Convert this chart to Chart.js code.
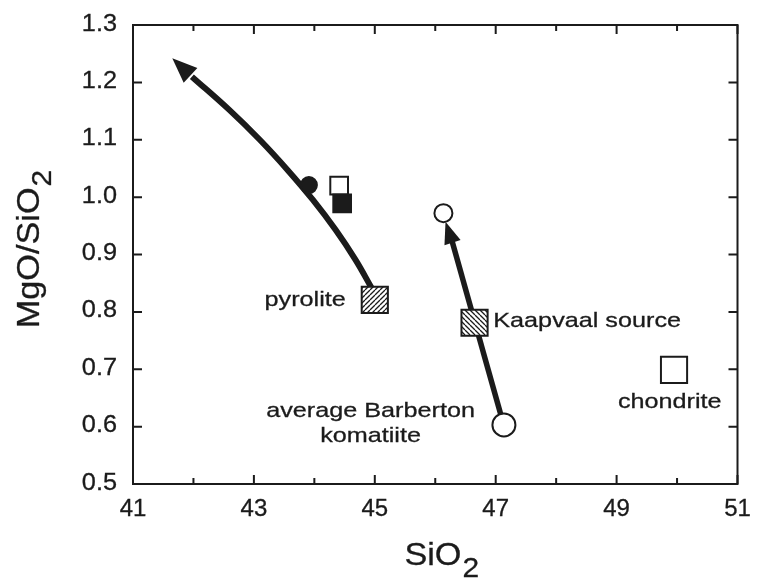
<!DOCTYPE html>
<html>
<head>
<meta charset="utf-8">
<title>MgO/SiO2 vs SiO2</title>
<script src="https://cdn.jsdelivr.net/npm/chart.js@4.4.1/dist/chart.umd.min.js"></script>
<style>
    html, body { margin: 0; padding: 0; background: #fff; }
    canvas { display: block; }
</style>
</head>
<body>
<canvas id="plot" width="758" height="579"></canvas>
<script>
// ============================================
// Data
// ============================================

const X_TICKS = [41, 42, 43, 44, 45, 46, 47, 48, 49, 50, 51];
const X_TICK_LABELS = ["41", "", "43", "", "45", "", "47", "", "49", "", "51"];
const Y_TICKS = [0.5, 0.6, 0.7, 0.8, 0.9, 1.0, 1.1, 1.2, 1.3];
const Y_TICK_LABELS = ["0.5", "0.6", "0.7", "0.8", "0.9", "1.0", "1.1", "1.2", "1.3"];

// curved trend leaving pyrolite (ends at the arrow base)
const pyroliteTrendX = [45.01, 44.945, 44.679, 44.351, 43.977, 43.560, 43.097, 42.593, 41.974];
const pyroliteTrendY = [0.830, 0.842, 0.891, 0.943, 0.995, 1.047, 1.100, 1.152, 1.210];
const pyroliteArrowTip = [41.65, 1.242];

// straight trend from the Barberton komatiite towards Kaapvaal
const kaapvaalTrendX = [47.10, 46.28];
const kaapvaalTrendY = [0.615, 0.9225];
const kaapvaalArrowTip = [46.17, 0.957];

const pyroliteX = [45.0];
const pyroliteY = [0.821];
const kaapvaalSourceX = [46.65];
const kaapvaalSourceY = [0.781];
const chondriteX = [49.95];
const chondriteY = [0.699];
const barbertonX = [47.136];
const barbertonY = [0.603];
const kaapvaalEndX = [46.135];
const kaapvaalEndY = [0.972];
const filledCircleX = [43.91];
const filledCircleY = [1.021];
const openSquareX = [44.41];
const openSquareY = [1.02];
const filledSquareX = [44.46];
const filledSquareY = [0.989];

const LABEL_TEXT = ["pyrolite", "Kaapvaal source", "chondrite", "average Barberton", "komatiite"];
const LABEL_X = [44.52, 46.96, 49.88, 44.93, 44.93];
const LABEL_Y = [0.8105, 0.774, 0.633, 0.617, 0.5735];

// ============================================
// Styling helpers
// ============================================

const INK = "#1b1b1b";
const FONT = '"Liberation Sans", Arial, Helvetica, sans-serif';
const LABEL_ALIGN = ["right", "left", "center", "center", "center"];

function toPoints(xs, ys) {
    return xs.map((x, i) => ({ x: x, y: ys[i] }));
}

function hatch(direction) {
    const size = 5;
    const c = document.createElement("canvas");
    c.width = size;
    c.height = size;
    const g = c.getContext("2d");
    g.fillStyle = "#fff";
    g.fillRect(0, 0, size, size);
    g.strokeStyle = INK;
    g.lineWidth = 1.3;
    g.beginPath();
    if (direction === "/") {
        for (let k = -1; k <= 1; k++) {
            g.moveTo(k * size, size);
            g.lineTo(k * size + size, 0);
        }
    } else {
        for (let k = -1; k <= 1; k++) {
            g.moveTo(k * size, 0);
            g.lineTo(k * size + size, size);
        }
    }
    g.stroke();
    return g.createPattern(c, "repeat");
}

function drawText(ctx, text, x, y, size, align, sx, rotate) {
    ctx.save();
    ctx.font = `${size}px ${FONT}`;
    ctx.fillStyle = INK;
    ctx.strokeStyle = INK;
    ctx.lineWidth = 0.3;
    ctx.textAlign = align;
    ctx.textBaseline = "alphabetic";
    ctx.translate(x, y);
    if (rotate) ctx.rotate(rotate);
    ctx.scale(sx, 1);
    ctx.fillText(text, 0, 0);
    ctx.strokeText(text, 0, 0);
    ctx.restore();
}

// title with a subscript, centred on (cx, baseline) along the text direction
function drawSubscriptTitle(ctx, main, sub, cx, cy, rotate) {
    const sx = 1.07;
    ctx.save();
    ctx.font = `32px ${FONT}`;
    const wMain = ctx.measureText(main).width * sx;
    ctx.font = `28px ${FONT}`;
    const wSub = ctx.measureText(sub).width * sx;
    ctx.translate(cx, cy);
    if (rotate) ctx.rotate(rotate);
    const start = -(wMain + wSub) / 2;
    drawText(ctx, main, start, 0, 32, "left", sx, 0);
    drawText(ctx, sub, start + wMain + 1, 12, 28, "left", sx, 0);
    ctx.restore();
}

// ============================================
// Plugins
// ============================================

const arrowHeads = {
    id: "arrowHeads",
    afterDatasetDraw(chart, args) {
        const ds = chart.data.datasets[args.index];
        if (!ds.arrowTip) return;
        const xs = chart.scales.x;
        const ys = chart.scales.y;
        const last = ds.data[ds.data.length - 1];
        const bx = xs.getPixelForValue(last.x);
        const by = ys.getPixelForValue(last.y);
        const tx = xs.getPixelForValue(ds.arrowTip[0]);
        const ty = ys.getPixelForValue(ds.arrowTip[1]);
        const ang = Math.atan2(ty - by, tx - bx);
        const len = ds.arrowLength;
        const half = ds.arrowHalfWidth;
        const hx = tx - len * Math.cos(ang);
        const hy = ty - len * Math.sin(ang);
        const ctx = chart.ctx;
        ctx.save();
        ctx.fillStyle = INK;
        ctx.beginPath();
        ctx.moveTo(tx, ty);
        ctx.lineTo(hx + half * Math.sin(ang), hy - half * Math.cos(ang));
        ctx.lineTo(hx - half * Math.sin(ang), hy + half * Math.cos(ang));
        ctx.closePath();
        ctx.fill();
        ctx.restore();
    },
};

const frameAndText = {
    id: "frameAndText",
    afterDraw(chart) {
        const ctx = chart.ctx;
        const { left, right, top, bottom } = chart.chartArea;
        const xs = chart.scales.x;
        const ys = chart.scales.y;

        ctx.save();
        ctx.strokeStyle = INK;
        ctx.lineWidth = 2;
        ctx.strokeRect(left, top, right - left, bottom - top);

        // inward ticks on all four sides
        ctx.beginPath();
        X_TICKS.forEach((v, i) => {
            const px = xs.getPixelForValue(v);
            const len = X_TICK_LABELS[i] ? 9 : 6;
            ctx.moveTo(px, bottom);
            ctx.lineTo(px, bottom - len);
            ctx.moveTo(px, top);
            ctx.lineTo(px, top + len);
        });
        Y_TICKS.forEach((v) => {
            const py = ys.getPixelForValue(v);
            ctx.moveTo(left, py);
            ctx.lineTo(left + 9, py);
            ctx.moveTo(right, py);
            ctx.lineTo(right - 9, py);
        });
        ctx.stroke();
        ctx.restore();

        X_TICKS.forEach((v, i) => {
            if (!X_TICK_LABELS[i]) return;
            drawText(ctx, X_TICK_LABELS[i], xs.getPixelForValue(v), bottom + 32, 24, "center", 1.0, 0);
        });
        Y_TICKS.forEach((v, i) => {
            drawText(ctx, Y_TICK_LABELS[i], left - 16, ys.getPixelForValue(v) + 5.5, 23, "right", 1.1, 0);
        });

        drawSubscriptTitle(ctx, "SiO", "2", (left + right) / 2 + 6, bottom + 81, 0);
        drawSubscriptTitle(ctx, "MgO/SiO", "2", left - 94, (top + bottom) / 2 - 5, -Math.PI / 2);

        LABEL_TEXT.forEach((t, i) => {
            drawText(ctx, t, xs.getPixelForValue(LABEL_X[i]), ys.getPixelForValue(LABEL_Y[i]), 21, LABEL_ALIGN[i], 1.2, 0);
        });
    },
};

// ============================================
// Chart
// ============================================

function markerSet(xs, ys, style, radius, fill, order) {
    return {
        data: toPoints(xs, ys),
        showLine: false,
        pointStyle: style,
        pointRadius: radius,
        pointBackgroundColor: fill,
        pointBorderColor: INK,
        pointBorderWidth: 2,
        order: order,
    };
}

function init() {
    const ctx = document.getElementById("plot").getContext("2d");

    const datasets = [
        {
            data: toPoints(pyroliteTrendX, pyroliteTrendY),
            showLine: true,
            borderColor: INK,
            borderWidth: 6,
            tension: 0.4,
            pointRadius: 0,
            arrowTip: pyroliteArrowTip,
            arrowLength: 25,
            arrowHalfWidth: 10,
            order: 5,
        },
        {
            data: toPoints(kaapvaalTrendX, kaapvaalTrendY),
            showLine: true,
            borderColor: INK,
            borderWidth: 5.5,
            pointRadius: 0,
            arrowTip: kaapvaalArrowTip,
            arrowLength: 22,
            arrowHalfWidth: 8.5,
            order: 5,
        },
        markerSet(pyroliteX, pyroliteY, "rect", 18.5, hatch("/"), 1),
        markerSet(kaapvaalSourceX, kaapvaalSourceY, "rect", 18.5, hatch("\\"), 1),
        markerSet(chondriteX, chondriteY, "rect", 18.5, "#fff", 1),
        markerSet(barbertonX, barbertonY, "circle", 11.5, "#fff", 1),
        markerSet(kaapvaalEndX, kaapvaalEndY, "circle", 9, "#fff", 1),
        markerSet(filledCircleX, filledCircleY, "circle", 8, INK, 1),
        markerSet(openSquareX, openSquareY, "rect", 12.5, "#fff", 2),
        markerSet(filledSquareX, filledSquareY, "rect", 12.5, INK, 1),
    ];

    new Chart(ctx, {
        type: "scatter",
        data: { datasets: datasets },
        options: {
            responsive: false,
            animation: false,
            events: [],
            layout: { padding: { left: 133, right: 9, top: 25, bottom: 95 } },
            plugins: {
                legend: { display: false },
                tooltip: { enabled: false },
            },
            scales: {
                x: { type: "linear", min: 41, max: 51, display: false },
                y: { type: "linear", min: 0.5, max: 1.3, display: false },
            },
        },
        plugins: [arrowHeads, frameAndText],
    });
}

document.addEventListener("DOMContentLoaded", init);
</script>
</body>
</html>
